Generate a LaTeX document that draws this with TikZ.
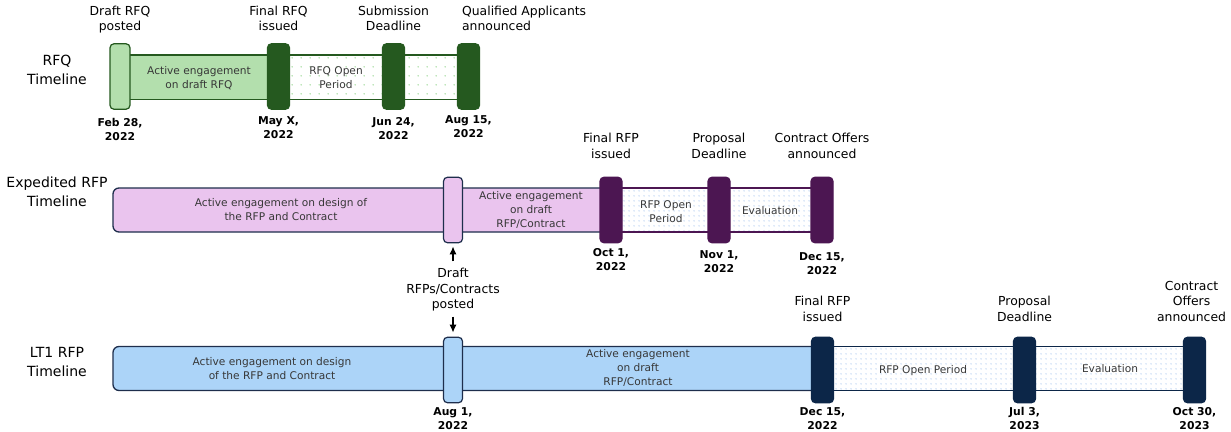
\documentclass[tikz,border=0pt]{standalone}
\usepackage{fontspec}
\setmainfont{DejaVu Sans}
\usetikzlibrary{positioning,patterns.meta,arrows.meta}

\definecolor{rfqlight}{RGB}{179,223,173}
\definecolor{rfqdark}{RGB}{37,89,31}
\definecolor{rfqdot}{RGB}{105,195,95}
\definecolor{exppink}{RGB}{234,196,238}
\definecolor{exppurple}{RGB}{76,22,82}
\definecolor{navyline}{RGB}{30,46,76}
\definecolor{ltblue}{RGB}{172,212,248}
\definecolor{ltnavy}{RGB}{12,38,72}
\definecolor{bluedot}{RGB}{125,170,228}
\definecolor{bartext}{RGB}{55,55,55}

\tikzdeclarepattern{name=widedots, type=uncolored,
  bounding box={(0pt,0pt) and (9pt,9pt)}, tile size={(9pt,9pt)},
  code={\fill (4.5pt,4.5pt) circle (0.75pt);}}
\tikzdeclarepattern{name=finedots, type=uncolored,
  bounding box={(0pt,0pt) and (4.5pt,4.5pt)}, tile size={(4.5pt,4.5pt)},
  code={\fill (2.25pt,2.25pt) circle (0.6pt);}}

\begin{document}
\begin{tikzpicture}[x=1pt,y=-1pt,
    bar/.style={line width=1.3pt},
    ms/.style={rectangle,rounded corners=4pt,line width=1.2pt,minimum height=65.5pt,inner sep=0pt},
    msdark/.style={ms,minimum width=22pt},
    mslight/.style={ms,minimum width=19pt},
    side/.style={align=center,inner sep=1pt,font=\fontsize{14}{19}\selectfont,
      execute at begin node=\strut,execute at end node=\strut},
    lab/.style={align=center,inner sep=1pt,font=\fontsize{12.4}{15.5}\selectfont,
      execute at begin node=\strut,execute at end node=\strut},
    dat/.style={align=center,inner sep=1pt,font=\fontsize{10.8}{14}\selectfont\bfseries,
      execute at begin node=\strut,execute at end node=\strut},
    bartxt/.style={align=center,inner sep=1pt,text=bartext,font=\fontsize{10.6}{14}\selectfont,
      execute at begin node=\strut,execute at end node=\strut},
    arr/.style={-{Latex[length=8pt,width=7pt]},line width=1.3pt}]
    \useasboundingbox (0,0) rectangle (1231,431);

    %RFQ timeline
    \node[side] (t1) at (57,73) {RFQ\\Timeline};
    \draw[bar,draw=rfqdark,fill=rfqlight] (120,55) rectangle (278.5,99.5);
    \draw[bar,draw=rfqdark,pattern=widedots,pattern color=rfqdot] (278.5,55) rectangle (468.5,99.5);
    \node[mslight,draw=rfqdark,fill=rfqlight,minimum width=20pt] (dr1) at (120,76.5) {};
    \node[msdark,draw=rfqdark,fill=rfqdark] (fi1) at (278.5,76.5) {};
    \node[msdark,draw=rfqdark,fill=rfqdark] (su1) at (393.5,76.5) {};
    \node[msdark,draw=rfqdark,fill=rfqdark] (qu1) at (468.5,76.5) {};
    \node[bartxt] (a1) at (199,79.5) {Active engagement\\on draft RFQ};
    \node[bartxt] (o1) at (336,80) {RFQ Open\\Period};

    \node[lab,above=6.4pt of dr1] (dr1l) {Draft RFQ\\posted};
    \node[lab,above=6.4pt of fi1] (fi1l) {Final RFQ\\issued};
    \node[lab,above=6.4pt of su1] (su1l) {Submission\\Deadline};
    \node[lab,align=left,above=6.4pt of qu1.north west,anchor=south west,xshift=4pt] (qu1l) {Qualified Applicants\\announced};
    \node[dat,below=7.5pt of dr1] (dr1d) {Feb 28,\\2022};
    \node[dat,below=6pt of fi1] (fi1d) {May X,\\2022};
    \node[dat,below=6pt of su1] (su1d) {Jun 24,\\2022};
    \node[dat,below=5pt of qu1] (qu1d) {Aug 15,\\2022};

    %Expedited RFP timeline
    \node[side] (t2) at (57,195) {Expedited RFP\\Timeline};
    \draw[bar,draw=navyline,fill=exppink,rounded corners=6pt] (113,188) rectangle (611,232);
    \draw[bar,draw=exppurple,pattern=finedots,pattern color=bluedot] (611,188) rectangle (822,232);
    \node[mslight,draw=navyline,fill=exppink] (dr2) at (453,210) {};
    \node[msdark,draw=exppurple,fill=exppurple] (fi2) at (611,210) {};
    \node[msdark,draw=exppurple,fill=exppurple] (pr2) at (719,210) {};
    \node[msdark,draw=exppurple,fill=exppurple] (co2) at (822,210) {};
    \node[bartxt] (a2) at (281,211.5) {Active engagement on design of\\the RFP and Contract};
    \node[bartxt] (b2) at (531,212) {Active engagement\\on draft\\RFP/Contract};
    \node[bartxt] (o2) at (666,213.5) {RFP Open\\Period};
    \node[bartxt] (e2) at (770,212) {Evaluation};

    \node[lab,above=12.4pt of fi2] (fi2l) {Final RFP\\issued};
    \node[lab,above=12.4pt of pr2] (pr2l) {Proposal\\Deadline};
    \node[lab,above=12.4pt of co2] (co2l) {Contract Offers\\announced};
    \node[dat,below=4pt of fi2] (fi2d) {Oct 1,\\2022};
    \node[dat,below=6pt of pr2] (pr2d) {Nov 1,\\2022};
    \node[dat,below=8pt of co2] (co2d) {Dec 15,\\2022};

    %draft posted
    \node[lab] (dp) at (453,291) {Draft\\RFPs/Contracts\\posted};

    %LT1 RFP timeline
    \node[side] (t3) at (57,365) {LT1 RFP\\Timeline};
    \draw[bar,draw=navyline,fill=ltblue,rounded corners=6pt] (113,346.5) rectangle (822.5,390.5);
    \draw[bar,draw=ltnavy,pattern=finedots,pattern color=bluedot] (822.5,346.5) rectangle (1194.5,390.5);
    \node[mslight,draw=navyline,fill=ltblue] (dr3) at (453,370) {};
    \node[msdark,draw=ltnavy,fill=ltnavy] (fi3) at (822.5,370) {};
    \node[msdark,draw=ltnavy,fill=ltnavy] (pr3) at (1024.5,370) {};
    \node[msdark,draw=ltnavy,fill=ltnavy] (co3) at (1194.5,370) {};
    \node[bartxt] (a3) at (272,371) {Active engagement on design\\of the RFP and Contract};
    \node[bartxt] (b3) at (638,370) {Active engagement\\on draft\\RFP/Contract};
    \node[bartxt] (o3) at (923,371) {RFP Open Period};
    \node[bartxt] (e3) at (1110,370) {Evaluation};

    \node[lab,above=9.5pt of fi3] (fi3l) {Final RFP\\issued};
    \node[lab,above=9.5pt of pr3] (pr3l) {Proposal\\Deadline};
    \node[lab,above=9.5pt of co3,xshift=-3pt] (co3l) {Contract\\Offers\\announced};
    \node[dat,below=3pt of dr3] (dr3d) {Aug 1,\\2022};
    \node[dat,below=3pt of fi3] (fi3d) {Dec 15,\\2022};
    \node[dat,below=3pt of pr3] (pr3d) {Jul 3,\\2023};
    \node[dat,below=3pt of co3] (co3d) {Oct 30,\\2023};

    %arrows
    \draw[arr,shorten <=6pt,shorten >=3pt] (dp) -- (dr2);
    \draw[arr,shorten <=2pt,shorten >=4pt] (dp) -- (dr3);
\end{tikzpicture}
\end{document}
